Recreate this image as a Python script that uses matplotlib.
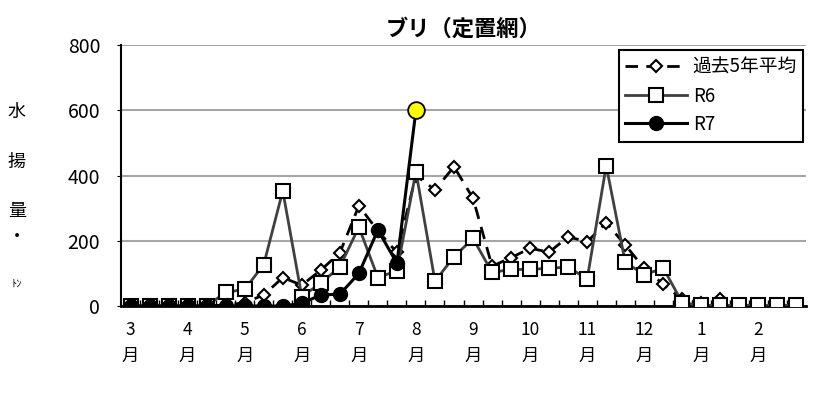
import matplotlib.pyplot as plt
import numpy as np

plt.rcParams['font.family'] = ['Noto Sans CJK JP', 'DejaVu Sans']

# 旬別の水揚量（トン）
months = ['3', '4', '5', '6', '7', '8', '9', '10', '11', '12', '1', '2']
avg5 = [0, 0, 0, 0, 0, 3, 10, 34, 87, 64, 110, 163, 307, 230, 164, 400, 356, 427,
        330, 122, 148, 177, 165, 212, 197, 255, 187, 115, 67, 20, 10, 22, 0, 0, 0, 0]
r6 = [0, 0, 0, 0, 0, 42, 51, 127, 353, 29, 70, 120, 242, 87, 108, 412, 76, 151,
      207, 103, 112, 112, 116, 119, 83, 430, 134, 96, 116, 10, 2, 2, 2, 2, 2, 2]
r7 = [0, 0, 0, 0, 0, 0, 0, 0, 0, 8, 34, 36, 100, 233, 131, 600]

x_avg = np.arange(len(avg5))
x_r6 = np.arange(len(r6))
x_r7 = np.arange(len(r7))

fig = plt.figure(figsize=(8.33, 3.99), dpi=100)
ax = fig.add_axes([0.1453, 0.2331, 0.8223, 0.6541])

ax.plot(x_avg, avg5, color='black', lw=2.0, ls=(0, (4.5, 3)), marker='D', ms=6.5,
        mfc='white', mec='black', mew=1.5, zorder=3, label='過去5年平均')
ax.plot(x_r6, r6, color='#404040', lw=2.0, marker='s', ms=10,
        mfc='white', mec='black', mew=1.5, zorder=4, label='R6')
ax.plot(x_r7, r7, color='black', lw=2.2, marker='o', ms=10,
        mfc='black', mec='black', zorder=5, label='R7')
# 最新値を黄色で強調
ax.plot(x_r7[-1], r7[-1], marker='o', ms=12, mfc='#ffff00', mec='black',
        mew=1.3, ls='none', zorder=6)

ax.set_xlim(-0.5, len(avg5) - 0.5)
ax.set_ylim(0, 800)
ax.set_yticks([0, 200, 400, 600, 800])
ax.tick_params(axis='y', labelsize=14, length=3, pad=12)
ax.yaxis.grid(True, color='#a6a6a6', lw=1.5)
ax.set_axisbelow(True)

ax.set_xticks(np.arange(0, 36, 3))
ax.set_xticklabels([m + '\n月' for m in months], fontsize=12.5, linespacing=1.55)
ax.tick_params(axis='x', length=0, pad=11)
ax.set_xticks(np.arange(0.5, 35, 1), minor=True)
ax.tick_params(axis='x', which='minor', direction='in', length=4, width=1)

for s in ['top', 'right']:
    ax.spines[s].set_visible(False)
ax.spines['left'].set_linewidth(1.5)
ax.spines['bottom'].set_linewidth(2)

ax.set_title('ブリ（定置網）', fontsize=16, fontweight='bold', pad=7)

leg = ax.legend(loc='upper right', bbox_to_anchor=(1.01, 1.015), fontsize=13.5,
                handlelength=3.3, fancybox=False, framealpha=1, edgecolor='black',
                borderpad=0.35, labelspacing=0.4, handletextpad=0.3)
leg.get_frame().set_linewidth(1.5)

# 縦書きの軸ラベル
for ch, yy in [('水', 0.72), ('揚', 0.595), ('量', 0.47), ('・', 0.405)]:
    fig.text(0.02, yy, ch, fontsize=13, ha='center', va='center')
fig.text(0.02, 0.29, 'ﾄﾝ', fontsize=7.5, ha='center', va='center')

fig.savefig('out.png', dpi=100)
